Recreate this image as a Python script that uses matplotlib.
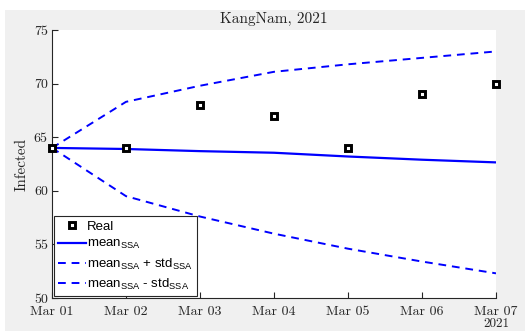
import numpy as np
import matplotlib
matplotlib.use("Agg")
import matplotlib.pyplot as plt
from matplotlib.patches import Rectangle

plt.rcParams['mathtext.fontset'] = 'custom'
plt.rcParams['mathtext.rm'] = 'Liberation Sans'
plt.rcParams['mathtext.it'] = 'Liberation Sans:italic'
plt.rcParams['axes.formatter.use_mathtext'] = True

dates = np.arange('2021-03-01', '2021-03-08', dtype='datetime64[D]')
real = [64, 64, 68, 67, 64, 69, 70]
mean_ssa = [64.0, 63.9, 63.7, 63.55, 63.2, 62.9, 62.65]
upper = [64.0, 68.3, 69.8, 71.1, 71.8, 72.4, 73.0]
lower = [64.0, 59.5, 57.6, 56.0, 54.6, 53.4, 52.3]
tick_labels = ['Mar 01', 'Mar 02', 'Mar 03', 'Mar 04', 'Mar 05', 'Mar 06', 'Mar 07']

serif = 'cmr10'
blue = '#0000ff'

fig = plt.figure(figsize=(5.25, 3.31), dpi=100)
fig.patches.append(Rectangle((5 / 525, 0), 1, 1 - 10 / 331, transform=fig.transFigure,
                             facecolor='#f0f0f0', edgecolor='none', zorder=-10))
ax = fig.add_axes([52 / 525, 1 - 298 / 331, 444 / 525, 268 / 331])
ax.set_facecolor('white')

ax.plot(dates, real, 's', color='black', markerfacecolor='white', markersize=4.5,
        markeredgewidth=2.1, clip_on=False, zorder=5, label='Real')
ax.plot(dates, mean_ssa, '-', color=blue, lw=1.6, label=r'mean$_{\mathrm{SSA}}$')
ax.plot(dates, upper, '--', color=blue, lw=1.4, dashes=(4, 3),
        label=r'mean$_{\mathrm{SSA}}$ + std$_{\mathrm{SSA}}$')
ax.plot(dates, lower, '--', color=blue, lw=1.4, dashes=(4, 3),
        label=r'mean$_{\mathrm{SSA}}$ - std$_{\mathrm{SSA}}$')

ax.set_xlim(dates[0], dates[-1])
ax.set_ylim(50, 75)
ax.set_xticks(dates)
ax.set_xticklabels(tick_labels, family=serif, fontsize=10, color='#262626')
ax.set_yticks([50, 55, 60, 65, 70, 75])
ax.set_yticklabels(['50', '55', '60', '65', '70', '75'], family=serif, fontsize=10,
                   color='#262626')
ax.tick_params(direction='in', length=4, width=0.8, colors='#262626')
ax.tick_params(axis='x', pad=6)
ax.tick_params(axis='y', pad=3)
for s in ['top', 'right']:
    ax.spines[s].set_visible(False)
for s in ['left', 'bottom']:
    ax.spines[s].set_color('#262626')
    ax.spines[s].set_linewidth(0.8)

ax.set_ylabel('Infected', family=serif, fontsize=11, color='#262626', labelpad=4)
ax.set_title('KangNam, 2021', family=serif, fontsize=11, color='#262626', pad=5)
ax.text(1, -0.075, '2021', transform=ax.transAxes, ha='center', va='top',
        family=serif, fontsize=9.5, color='#262626')

leg = ax.legend(loc='lower left', prop={'family': 'Liberation Sans', 'size': 9.5},
                handlelength=2.1, handletextpad=0.1, borderaxespad=0.15,
                labelspacing=0.4, borderpad=0.3, fancybox=False, framealpha=1)
leg.get_frame().set_edgecolor('#262626')
leg.get_frame().set_linewidth(0.8)

fig.savefig('out.png', dpi=100, facecolor='white')
